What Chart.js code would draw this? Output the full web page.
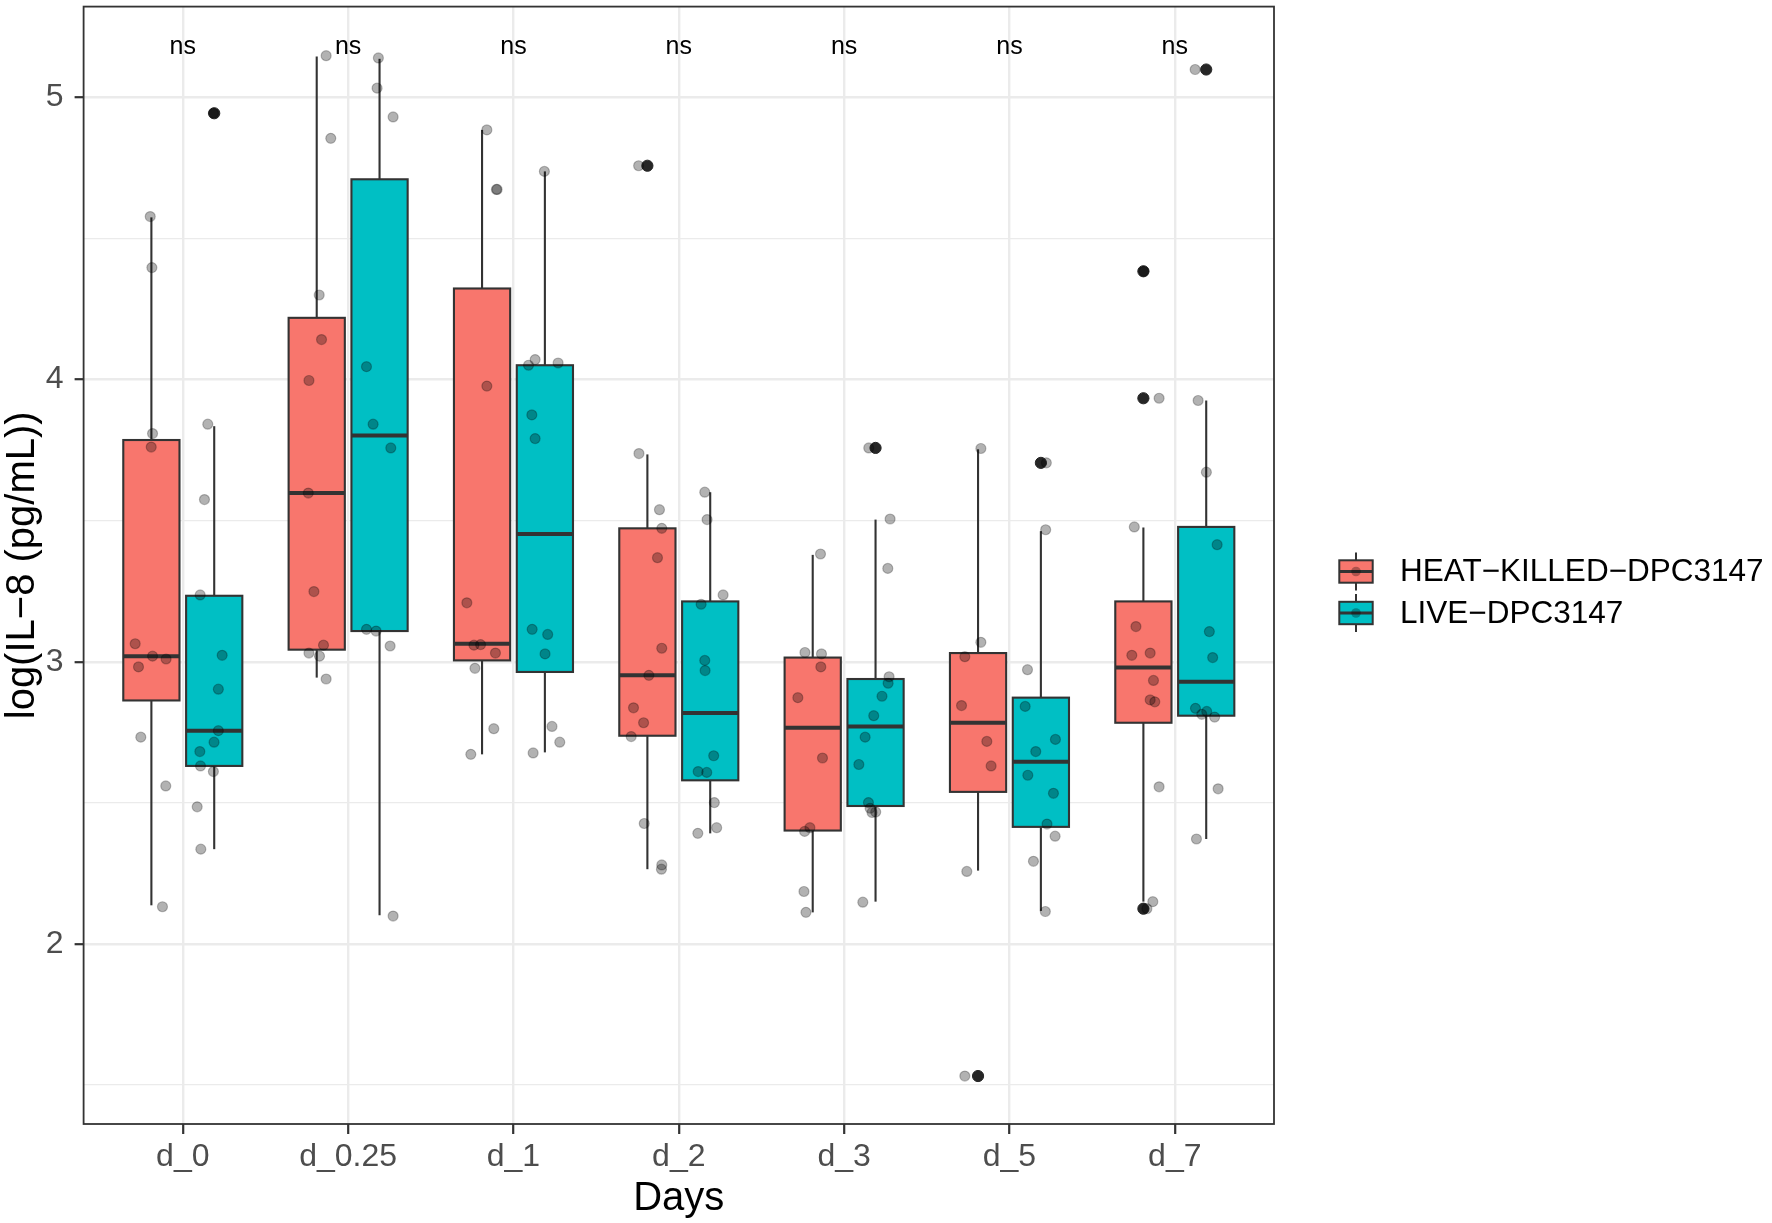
<!DOCTYPE html>
<html>
<head>
<meta charset="utf-8">
<script src="https://cdn.jsdelivr.net/npm/chart.js@4.4.0/dist/chart.umd.min.js"></script>
<style>
html,body{margin:0;padding:0;background:#fff}
#wrap{width:1772px;height:1223px;position:relative}
</style>
</head>
<body>
<div id="wrap"><canvas id="c"></canvas></div>
<script>
// categories and groups
const days = ['d_0','d_0.25','d_1','d_2','d_3','d_5','d_7'];
const groups = ['HEAT\u2212KILLED\u2212DPC3147','LIVE\u2212DPC3147'];
const sigLabels = ['ns','ns','ns','ns','ns','ns','ns'];
const sigLevel = 5.178;

// box stats, HEAT-KILLED
const heatLow    = [2.137, 2.944, 2.672, 2.265, 2.112, 2.260, 2.150];
const heatQ1     = [2.863, 3.043, 3.005, 2.738, 2.402, 2.539, 2.784];
const heatMedian = [3.020, 3.598, 3.064, 2.952, 2.766, 2.784, 2.980];
const heatQ3     = [3.786, 4.219, 4.323, 3.473, 3.015, 3.031, 3.214];
const heatHigh   = [4.575, 5.145, 4.885, 3.735, 3.379, 3.753, 3.476];
const heatOutliers = [[], [], [], [4.758], [], [1.532], [4.384, 3.934, 2.125]];

// box stats, LIVE
const liveLow    = [2.336, 2.102, 2.679, 2.392, 2.150, 2.117, 2.372];
const liveQ1     = [2.631, 3.109, 2.964, 2.580, 2.489, 2.415, 2.809];
const liveMedian = [2.756, 3.802, 3.453, 2.819, 2.771, 2.646, 2.929];
const liveQ3     = [3.234, 4.710, 4.051, 3.214, 2.939, 2.873, 3.478];
const liveHigh   = [3.835, 5.137, 4.738, 3.601, 3.504, 3.463, 3.926];
const liveOutliers = [[4.944], [], [], [], [3.758], [3.705], [5.099]];

// raw observations (jittered points) and their horizontal jitter, in category units
const heatValues = [
  [4.578,4.397,3.809,3.761,3.064,2.982,3.020,3.010,2.733,2.560,2.132],
  [5.148,4.855,4.300,4.142,3.997,3.598,3.249,3.059,3.031,3.020,2.939],
  [4.885,4.674,4.674,3.977,3.209,3.059,3.061,3.031,2.977,2.763,2.672],
  [4.758,3.738,3.539,3.473,3.369,3.048,2.952,2.837,2.784,2.735,2.427,2.280,2.265],
  [3.382,3.033,3.028,2.982,2.873,2.659,2.412,2.399,2.186,2.112],
  [3.756,3.069,3.018,2.845,2.718,2.631,2.257,1.532],
  [4.384,3.934,3.478,3.125,3.023,3.031,2.934,2.865,2.858,2.557,2.150,2.125]
];
const heatJitter = [
  [-0.197,-0.187,-0.183,-0.191,-0.288,-0.268,-0.183,-0.101,-0.254,-0.103,-0.123],
  [-0.133,-0.105,-0.175,-0.161,-0.237,-0.241,-0.207,-0.149,-0.237,-0.173,-0.133],
  [-0.161,-0.099,-0.103,-0.161,-0.282,-0.239,-0.199,-0.109,-0.233,-0.119,-0.258],
  [-0.243,-0.241,-0.117,-0.103,-0.129,-0.103,-0.181,-0.274,-0.213,-0.288,-0.209,-0.103,-0.105],
  [-0.143,-0.237,-0.137,-0.141,-0.280,-0.131,-0.207,-0.239,-0.243,-0.231],
  [-0.173,-0.173,-0.270,-0.290,-0.137,-0.111,-0.258,-0.270],
  [-0.187,-0.095,-0.245,-0.235,-0.260,-0.149,-0.129,-0.149,-0.121,-0.095,-0.133,-0.169]
];
const liveValues = [
  [4.944,3.842,3.575,3.237,3.023,2.903,2.756,2.715,2.682,2.631,2.611,2.486,2.336],
  [5.140,5.033,4.931,4.046,3.842,3.758,3.115,3.109,3.056,2.099],
  [4.738,4.071,4.059,4.051,3.875,3.791,3.115,3.097,3.028,2.771,2.715,2.677],
  [3.601,3.504,3.237,3.204,3.005,2.969,2.667,2.611,2.608,2.501,2.412,2.392],
  [3.758,3.506,3.331,2.947,2.924,2.878,2.809,2.733,2.636,2.501,2.481,2.466,2.468,2.148],
  [3.705,3.468,2.972,2.842,2.725,2.682,2.598,2.534,2.425,2.382,2.293,2.115],
  [5.099,3.926,3.672,3.415,3.107,3.015,2.835,2.814,2.824,2.804,2.550,2.372]
];
const liveJitter = [
  [0.185,0.151,0.131,0.105,0.238,0.215,0.215,0.189,0.103,0.107,0.185,0.087,0.109],
  [0.183,0.175,0.272,0.111,0.151,0.258,0.111,0.169,0.254,0.272],
  [0.187,0.131,0.270,0.091,0.111,0.131,0.113,0.207,0.191,0.233,0.280,0.119],
  [0.157,0.171,0.268,0.135,0.157,0.159,0.211,0.117,0.169,0.215,0.229,0.115],
  [0.149,0.278,0.264,0.272,0.266,0.229,0.179,0.127,0.089,0.147,0.157,0.169,0.191,0.113],
  [0.223,0.219,0.109,0.095,0.278,0.159,0.111,0.266,0.227,0.276,0.145,0.217],
  [0.123,0.141,0.191,0.256,0.209,0.229,0.125,0.163,0.193,0.241,0.262,0.131]
];

const colors = ['#F8766D', '#00BFC4'];
const dodge = 0.19, halfW = 0.17;
const FONT = '"Liberation Sans", Arial, sans-serif';

const boxes = [
  {shift: -dodge, color: colors[0], low: heatLow, q1: heatQ1, med: heatMedian, q3: heatQ3, high: heatHigh, out: heatOutliers},
  {shift:  dodge, color: colors[1], low: liveLow, q1: liveQ1, med: liveMedian, q3: liveQ3, high: liveHigh, out: liveOutliers}
];

function pts(values, jitter){
  return values.flatMap((vals, i) => vals.map((v, k) => ({x: i + 1 + jitter[i][k], y: v})));
}
function outPts(){
  const res = [];
  boxes.forEach(b => b.out.forEach((vals, i) => vals.forEach(v => res.push({x: i + 1 + b.shift, y: v}))));
  return res;
}

function line(ctx, x1, y1, x2, y2){ ctx.beginPath(); ctx.moveTo(x1, y1); ctx.lineTo(x2, y2); ctx.stroke(); }

const boxPlugin = {
  id: 'boxes',
  beforeDatasetsDraw(chart){
    const {ctx, scales: {x, y}} = chart;
    ctx.save();
    ctx.strokeStyle = '#333333';
    boxes.forEach(b => {
      for (let i = 0; i < days.length; i++){
        const c = i + 1 + b.shift;
        const xl = x.getPixelForValue(c - halfW), xr = x.getPixelForValue(c + halfW), xc = x.getPixelForValue(c);
        const yLo = y.getPixelForValue(b.low[i]), yQ1 = y.getPixelForValue(b.q1[i]);
        const yMd = y.getPixelForValue(b.med[i]), yQ3 = y.getPixelForValue(b.q3[i]);
        const yHi = y.getPixelForValue(b.high[i]);
        ctx.lineWidth = 2.1;
        line(ctx, xc, yHi, xc, yQ3);
        line(ctx, xc, yQ1, xc, yLo);
        ctx.fillStyle = b.color;
        ctx.fillRect(xl, yQ3, xr - xl, yQ1 - yQ3);
        ctx.strokeRect(xl, yQ3, xr - xl, yQ1 - yQ3);
        ctx.lineWidth = 4;
        line(ctx, xl, yMd, xr, yMd);
      }
    });
    ctx.restore();
  },
  afterDatasetsDraw(chart){
    const {ctx, chartArea: a, scales: {x, y}} = chart;
    ctx.save();
    ctx.fillStyle = '#000';
    ctx.font = '25px ' + FONT;
    ctx.textAlign = 'center';
    ctx.textBaseline = 'middle';
    sigLabels.forEach((s, i) => ctx.fillText(s, x.getPixelForValue(i + 1), y.getPixelForValue(sigLevel)));
    ctx.strokeStyle = '#333333';
    ctx.lineWidth = 1.8;
    ctx.strokeRect(a.left, a.top, a.right - a.left, a.bottom - a.top);
    ctx.restore();
  },
  afterDraw(chart){
    const ctx = chart.ctx;
    ctx.save();
    const kx = 1356, kw = 33.4, kh = 22.4;
    groups.forEach((g, i) => {
      const cy = 571.5 + i * 41.5;
      ctx.strokeStyle = '#333333';
      ctx.lineWidth = 2;
      line(ctx, kx, cy - 19, kx, cy + 19);
      ctx.fillStyle = colors[i];
      ctx.fillRect(kx - kw / 2, cy - kh / 2, kw, kh);
      ctx.strokeRect(kx - kw / 2, cy - kh / 2, kw, kh);
      ctx.lineWidth = 3.2;
      line(ctx, kx - kw / 2, cy, kx + kw / 2, cy);
      ctx.beginPath();
      ctx.arc(kx, cy, 4.8, 0, Math.PI * 2);
      ctx.fillStyle = 'rgba(0,0,0,0.3)';
      ctx.fill();
      ctx.fillStyle = '#000';
      ctx.font = '31.5px ' + FONT;
      ctx.textAlign = 'left';
      ctx.textBaseline = 'middle';
      ctx.fillText(g, 1400, cy + 1);
    });
    ctx.restore();
  }
};

const isMajor = v => Math.abs(v - Math.round(v)) < 1e-6;

new Chart(document.getElementById('c'), {
  type: 'scatter',
  data: {
    datasets: [
      {label: groups[0], data: pts(heatValues, heatJitter), order: 1,
       pointRadius: 5, pointBackgroundColor: 'rgba(0,0,0,0.3)', pointBorderColor: 'rgba(0,0,0,0.25)', pointBorderWidth: 1.2},
      {label: groups[1], data: pts(liveValues, liveJitter), order: 1,
       pointRadius: 5, pointBackgroundColor: 'rgba(0,0,0,0.3)', pointBorderColor: 'rgba(0,0,0,0.25)', pointBorderWidth: 1.2},
      {label: 'outliers', data: outPts(), order: 2,
       pointRadius: 5.6, pointBackgroundColor: '#262626', pointBorderColor: '#262626', pointBorderWidth: 1}
    ]
  },
  options: {
    responsive: true,
    maintainAspectRatio: false,
    animation: false,
    layout: {padding: {left: 0, top: 3.5, right: 498, bottom: 0}},
    plugins: {legend: {display: false}, tooltip: {enabled: false}},
    scales: {
      x: {
        type: 'linear', min: 0.4, max: 7.6,
        afterFit: s => { s.height = 99; s.paddingLeft = 0; s.paddingRight = 0; },
        border: {display: false},
        grid: {color: '#EBEBEB', lineWidth: 2.4, tickColor: '#333333', tickLength: 10, tickWidth: 2.2},
        ticks: {stepSize: 1, includeBounds: false, maxRotation: 0, autoSkip: false, padding: 4,
                color: '#4D4D4D', font: {family: FONT, size: 32},
                callback: v => isMajor(v) && days[v - 1] ? days[v - 1] : ''},
        title: {display: true, text: 'Days', color: '#000', font: {family: FONT, size: 40, lineHeight: 1}, padding: {top: 0, bottom: 4}}
      },
      y: {
        type: 'linear', min: 1.362, max: 5.322,
        afterFit: s => { s.width = 83.6; s.paddingTop = 0; s.paddingBottom = 0; },
        border: {display: false},
        grid: {
          color: '#EBEBEB',
          lineWidth: c => (c.tick && isMajor(c.tick.value)) ? 2.4 : 1.2,
          tickColor: c => (c.tick && isMajor(c.tick.value)) ? '#333333' : 'rgba(0,0,0,0)',
          tickLength: 9, tickWidth: 2.2
        },
        ticks: {stepSize: 0.5, includeBounds: false, autoSkip: false, padding: 11,
                color: '#4D4D4D', font: {family: FONT, size: 32},
                callback: v => isMajor(v) ? String(v) : ''},
        title: {display: true, text: 'log(IL\u22128 (pg/mL))', color: '#000', font: {family: FONT, size: 40, lineHeight: 1}, padding: {top: 2.6, bottom: 0}}
      }
    }
  },
  plugins: [boxPlugin]
});
</script>
</body>
</html>
